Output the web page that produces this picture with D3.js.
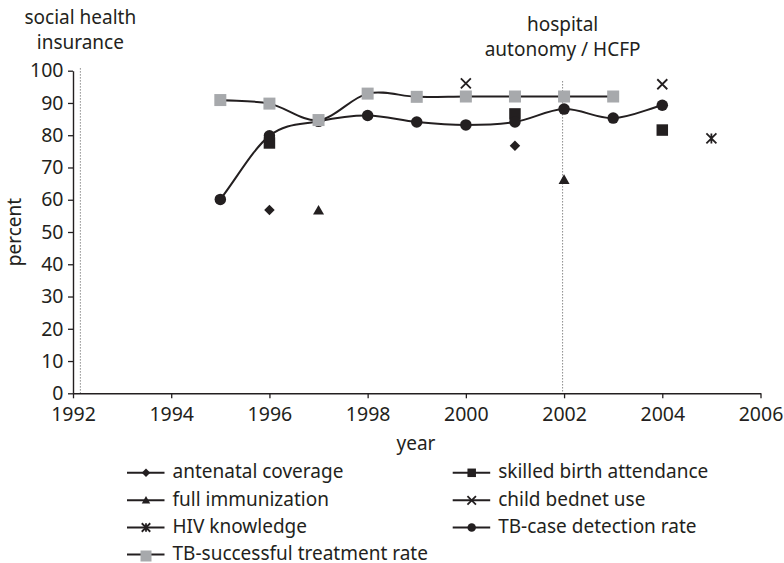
<!DOCTYPE html>
<html>
<head>
<meta charset="utf-8">
<script src="https://cdn.jsdelivr.net/npm/d3@7"></script>
<style>
    body { margin: 0; background: #fff; }
    svg text { font-family: "Noto Sans", "Open Sans", sans-serif; fill: #231f20; }
</style>
</head>
<body>
<svg></svg>
<script>
document.addEventListener("DOMContentLoaded", function() {

    var width = 784;
    var height = 563;
    var ink = "#231f20";
    var grey = "#a7a9ac";

    // x ticks / y ticks
    var xTicks = [1992, 1994, 1996, 1998, 2000, 2002, 2004, 2006];
    var yTicks = [0, 10, 20, 30, 40, 50, 60, 70, 80, 90, 100];

    // policy events drawn as dotted verticals
    var eventYears = [1992.15, 2001.97];
    var eventTops = [100.8, 96.8];
    var eventLabels = [["social health", "insurance"], ["hospital", "autonomy / HCFP"]];

    // series values
    var antenatalYears = [1996, 2001];
    var antenatal = [56.8, 76.7];
    var immunYears = [1997, 2002];
    var immun = [56.7, 66.2];
    var hivYears = [2005];
    var hiv = [79.0];
    var skilledYears = [1996, 2001, 2004];
    var skilled = [77.6, 86.6, 81.6];
    var bednetYears = [2000, 2004];
    var bednet = [96.1, 95.8];
    var tbCaseYears = [1995, 1996, 1997, 1998, 1999, 2000, 2001, 2002, 2003, 2004];
    var tbCase = [60.1, 79.8, 84.3, 86.1, 84.1, 83.2, 84.1, 88.1, 85.3, 89.3];
    var tbSuccessYears = [1995, 1996, 1997, 1998, 1999, 2000, 2001, 2002, 2003];
    var tbSuccess = [90.9, 89.8, 84.7, 92.9, 91.9, 92, 92, 92, 92];

    var svg = d3.select("svg")
                .attr("width", width)
                .attr("height", height);

    var xScale = d3.scaleLinear()
                   .domain([1992, 2006])
                   .range([73, 760.5]);
    var yScale = d3.scaleLinear()
                   .domain([0, 100])
                   .range([393.3, 70.7]);

    function zip(xs, ys) {
        return xs.map(function(x, i) { return { year: x, value: ys[i] }; });
    }

    // Excel-ish smoothing: catmull-rom arms inside, chord-aligned arms at the ends
    function excelCurve(context) {
        var pts;
        return {
            areaStart: function() {},
            areaEnd: function() {},
            lineStart: function() { pts = []; },
            point: function(x, y) { pts.push([+x, +y]); },
            lineEnd: function() {
                var n = pts.length;
                if (!n) return;
                context.moveTo(pts[0][0], pts[0][1]);
                for (var i = 0; i < n - 1; i++) {
                    var p0 = pts[i], p1 = pts[i + 1];
                    var a = pts[i - 1], b = pts[i + 2];
                    var c1 = a ? [p0[0] + (p1[0] - a[0]) / 6, p0[1] + (p1[1] - a[1]) / 6]
                               : [p0[0] + (p1[0] - p0[0]) / 3, p0[1] + (p1[1] - p0[1]) / 3];
                    var c2 = b ? [p1[0] - (b[0] - p0[0]) / 6, p1[1] - (b[1] - p0[1]) / 6]
                               : [p1[0] - (p1[0] - p0[0]) / 3, p1[1] - (p1[1] - p0[1]) / 3];
                    context.bezierCurveTo(c1[0], c1[1], c2[0], c2[1], p1[0], p1[1]);
                }
            }
        };
    }

    // marker drawers, centred on 0,0
    function drawMarker(g, type, s) {
        if (type === "square") {
            g.append("rect").attr("x", -s/2).attr("y", -s/2).attr("width", s).attr("height", s).attr("fill", ink);
        } else if (type === "greysquare") {
            g.append("rect").attr("x", -s/2).attr("y", -s/2).attr("width", s).attr("height", s).attr("fill", grey);
        } else if (type === "circle") {
            g.append("circle").attr("r", s/2).attr("fill", ink);
        } else if (type === "diamond") {
            g.append("path").attr("d", `M0,${-s/2}L${s/2},0L0,${s/2}L${-s/2},0Z`).attr("fill", ink);
        } else if (type === "triangle") {
            g.append("path").attr("d", `M0,${-s*0.5}L${s/2},${s*0.38}L${-s/2},${s*0.38}Z`).attr("fill", ink);
        } else if (type === "cross") {
            g.append("path").attr("d", `M${-s/2},${-s/2}L${s/2},${s/2}M${s/2},${-s/2}L${-s/2},${s/2}`)
             .attr("stroke", ink).attr("stroke-width", 1.8).attr("fill", "none");
        } else if (type === "star") {
            g.append("path").attr("d", `M${-s/2},${-s/2}L${s/2},${s/2}M${s/2},${-s/2}L${-s/2},${s/2}M0,${-s/2}L0,${s/2}`)
             .attr("stroke", ink).attr("stroke-width", 1.8).attr("fill", "none");
        }
    }

    var series = [
        { name: "antenatal coverage", data: zip(antenatalYears, antenatal), marker: "diamond", size: 10.5, line: false },
        { name: "skilled birth attendance", data: zip(skilledYears, skilled), marker: "square", size: 11.5, line: false },
        { name: "full immunization", data: zip(immunYears, immun), marker: "triangle", size: 11, line: false },
        { name: "child bednet use", data: zip(bednetYears, bednet), marker: "cross", size: 10, line: false },
        { name: "HIV knowledge", data: zip(hivYears, hiv), marker: "star", size: 10, line: false },
        { name: "TB-case detection rate", data: zip(tbCaseYears, tbCase), marker: "circle", size: 11.5, line: true },
        { name: "TB-successful treatment rate", data: zip(tbSuccessYears, tbSuccess), marker: "greysquare", size: 12, line: true }
    ];

    // dotted event lines + labels
    eventYears.forEach(function(yr, i) {
        svg.append("line")
           .attr("x1", xScale(yr)).attr("x2", xScale(yr))
           .attr("y1", yScale(eventTops[i])).attr("y2", yScale(0))
           .attr("stroke", "#8a8a8a").attr("stroke-width", 1)
           .attr("stroke-dasharray", "1.5,1.5");
        var t = svg.append("text")
                   .attr("x", xScale(yr))
                   .attr("y", i === 0 ? 23.5 : 30.5)
                   .attr("text-anchor", "middle")
                   .style("font-size", "19px");
        eventLabels[i].forEach(function(s, j) {
            t.append("tspan").attr("x", xScale(yr)).attr("dy", j === 0 ? 0 : 25).text(s);
        });
    });

    // axes
    var xAxis = d3.axisBottom(xScale).tickValues(xTicks).tickFormat(d3.format("d")).tickSize(5).tickSizeOuter(0);
    var yAxis = d3.axisLeft(yScale).tickValues(yTicks).tickSize(5).tickSizeOuter(0);

    var gx = svg.append("g").attr("transform", `translate(0,${yScale(0)})`).call(xAxis);
    var gy = svg.append("g").attr("transform", `translate(${xScale(1992)},0)`).call(yAxis);

    [gx, gy].forEach(function(g) {
        g.selectAll(".domain").attr("stroke", ink).attr("stroke-width", 1.4);
        g.selectAll(".tick line").attr("stroke", ink).attr("stroke-width", 1.3);
        g.selectAll(".tick text").style("font-size", "19.5px").attr("fill", ink)
         .style("font-family", '"Noto Sans", sans-serif');
    });
    gx.selectAll(".tick text").attr("dy", "0.95em").attr("y", 9.5);
    gy.selectAll(".tick text").attr("x", -9.5);

    // axis titles
    svg.append("text")
       .attr("x", 416).attr("y", 450)
       .attr("text-anchor", "middle")
       .style("font-size", "19px")
       .text("year");
    svg.append("text")
       .attr("transform", "translate(21,232) rotate(-90)")
       .attr("text-anchor", "middle")
       .style("font-size", "19px")
       .text("percent");

    // smoothed lines
    var line = d3.line()
                 .x(d => xScale(d.year))
                 .y(d => yScale(d.value))
                 .curve(excelCurve);

    series.filter(s => s.line).forEach(function(s) {
        svg.append("path")
           .datum(s.data)
           .attr("d", line)
           .attr("fill", "none")
           .attr("stroke", ink)
           .attr("stroke-width", 2);
    });

    // markers
    series.forEach(function(s) {
        s.data.forEach(function(d) {
            var g = svg.append("g").attr("transform", `translate(${xScale(d.year)},${yScale(d.value)})`);
            drawMarker(g, s.marker, s.size);
        });
    });

    // legend: two columns, four rows
    var legendCols = [127, 452.7];
    var legendRows = [472.8, 500.3, 527.5, 554.5];
    series.forEach(function(s, i) {
        var col = i % 2;
        var row = Math.floor(i / 2);
        if (i === 6) { col = 0; row = 3; }
        var x0 = legendCols[col];
        var y0 = legendRows[row];
        var g = svg.append("g").attr("transform", `translate(${x0},${y0})`);
        g.append("line").attr("x1", 0).attr("x2", 37.5).attr("y1", 0).attr("y2", 0)
         .attr("stroke", ink).attr("stroke-width", 2);
        var m = g.append("g").attr("transform", s.marker === "greysquare" ? "translate(19,1.5)" : "translate(19,0)");
        drawMarker(m, s.marker, s.marker === "greysquare" ? 11 : 8.5);
        g.append("text")
         .attr("x", 45.5).attr("y", 5.6)
         .style("font-size", "19px")
         .text(s.name);
    });

})
</script>
</body>
</html>
